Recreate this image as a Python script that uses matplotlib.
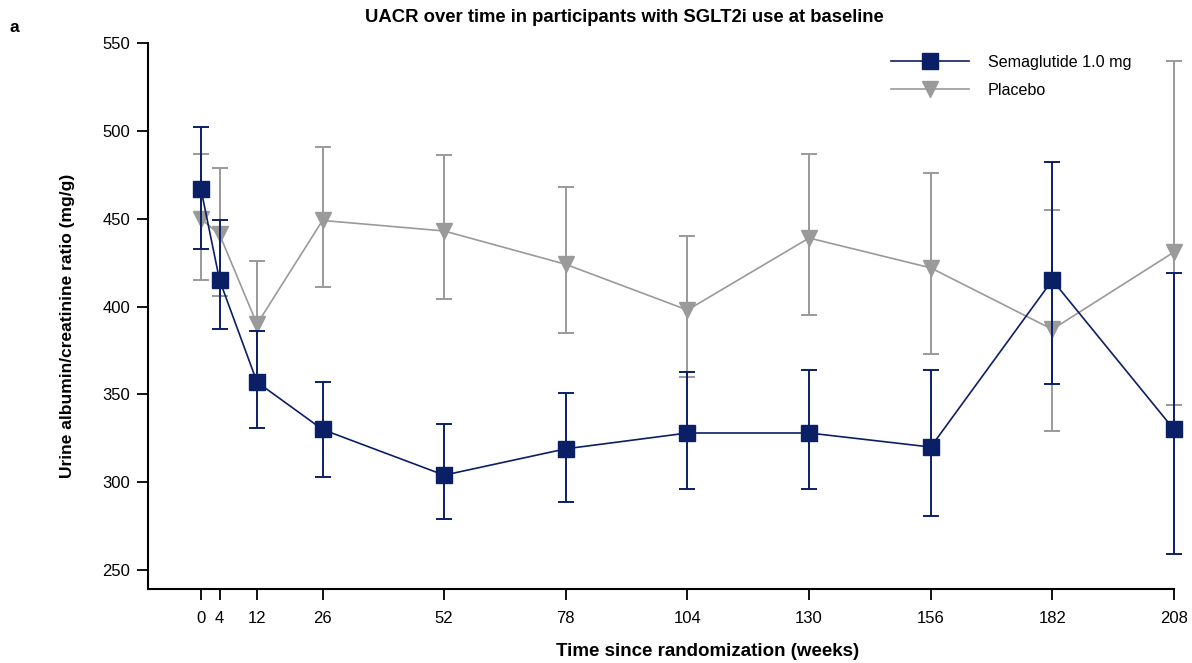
import matplotlib.pyplot as plt
from matplotlib.lines import Line2D
import numpy as np

plt.rcParams['font.family'] = ['Liberation Sans', 'DejaVu Sans']

# weeks since randomization
weeks = [0, 4, 12, 26, 52, 78, 104, 130, 156, 182, 208]

# Semaglutide 1.0 mg: estimate with lower / upper confidence limits
sema = [467, 415, 357, 330, 304, 319, 328, 328, 320, 415, 330]
sema_lo = [433, 387, 331, 303, 279, 289, 296, 296, 281, 356, 259]
sema_hi = [502, 449, 386, 357, 333, 351, 363, 364, 364, 482, 419]

# Placebo
plac = [450, 441, 390, 449, 443, 424, 398, 439, 422, 387, 431]
plac_lo = [415, 406, 356, 411, 404, 385, 360, 395, 373, 329, 344]
plac_hi = [487, 479, 426, 491, 486, 468, 440, 487, 476, 455, 540]

navy = '#0a1f66'
grey = '#9a9a9a'

fig = plt.figure(figsize=(11.92, 6.63), dpi=100)
ax = fig.add_axes([148 / 1192, 1 - 589 / 663, (1174 - 148) / 1192, (589 - 43) / 663])


def draw(y, lo, hi, color, marker, ms, z):
    y = np.array(y)
    err = [y - np.array(lo), np.array(hi) - y]
    eb = ax.errorbar(weeks, y, yerr=err, color=color, ecolor=color, lw=1.2,
                     elinewidth=1.4, capsize=6, capthick=1.4,
                     marker=marker, ms=ms, mfc=color, mec=color, zorder=z)
    for art in list(eb.lines[1]) + list(eb.lines[2]):
        art.set_clip_on(False)
    eb.lines[0].set_clip_on(False)


draw(plac, plac_lo, plac_hi, grey, 'v', 12, 2)
draw(sema, sema_lo, sema_hi, navy, 's', 11.3, 3)

ax.set_xlim(-11.3, 208)
ax.set_ylim(239.2, 550)
ax.set_xticks(weeks)
ax.set_yticks([250, 300, 350, 400, 450, 500, 550])
ax.tick_params(axis='both', length=8, width=1.3, labelsize=12, colors='black')
ax.tick_params(axis='x', pad=8)
ax.tick_params(axis='y', pad=5)
for s in ['top', 'right']:
    ax.spines[s].set_visible(False)
for s in ['left', 'bottom']:
    ax.spines[s].set_linewidth(1.5)

# axis titles
fig.text(708 / 1192, 1 - 652 / 663, 'Time since randomization (weeks)',
         ha='center', va='center', fontsize=13.5, fontweight='bold')
fig.text(68 / 1192, 1 - 326 / 663, 'Urine albumin/creatinine ratio (mg/g)',
         ha='center', va='center', rotation=90, fontsize=12.5, fontweight='bold')

handles = [
    Line2D([], [], color=navy, lw=1.2, marker='s', ms=11.3),
    Line2D([], [], color=grey, lw=1.2, marker='v', ms=12),
]
fig.legend(handles, ['Semaglutide 1.0 mg', 'Placebo'], loc='upper left',
           bbox_to_anchor=(891 / 1192, 1 - 55 / 663), frameon=False,
           fontsize=11.6, handlelength=4.85, borderpad=0, borderaxespad=0,
           labelspacing=0.8, handletextpad=1.15)

fig.text(624 / 1192, 1 - 18 / 663, 'UACR over time in participants with SGLT2i use at baseline',
         ha='center', va='center', fontsize=13.3, fontweight='bold')
fig.text(10 / 1192, 1 - 28 / 663, 'a', ha='left', va='center', fontsize=12.5, fontweight='bold')

fig.savefig('out.png', dpi=100)
